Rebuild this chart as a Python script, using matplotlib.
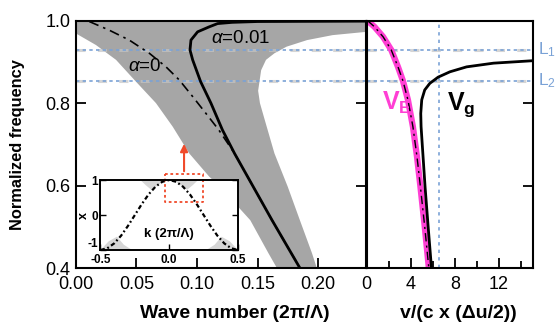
import matplotlib.pyplot as plt

plt.rcParams['font.family'] = ['Liberation Sans', 'DejaVu Sans']
plt.rcParams['mathtext.fontset'] = 'custom'
plt.rcParams['mathtext.rm'] = 'Liberation Sans'
plt.rcParams['mathtext.bf'] = 'Liberation Sans:bold'
plt.rcParams['mathtext.it'] = 'Liberation Sans:italic'

# ---- data ----
# gray band, left (lower) boundary, top to bottom
band_left_k = [0.0, 0.0165, 0.0331, 0.0496, 0.0661, 0.0799, 0.0936, 0.110, 0.119, 0.144, 0.159, 0.166]
band_left_f = [0.969, 0.941, 0.905, 0.852, 0.800, 0.743, 0.678, 0.622, 0.597, 0.516, 0.436, 0.40]
# gray band, right boundary (white bulge), bottom to top
band_right_k = [0.199, 0.195, 0.185, 0.175, 0.164, 0.156, 0.152, 0.1505, 0.153, 0.157, 0.164, 0.174, 0.191, 0.212, 0.240]
band_right_f = [0.40, 0.436, 0.516, 0.597, 0.678, 0.759, 0.800, 0.830, 0.880, 0.905, 0.921, 0.937, 0.953, 0.965, 0.973]

# alpha = 0.01 dispersion (solid)
a001_k = [0.185, 0.162, 0.1465, 0.131, 0.121, 0.1175, 0.1115, 0.103, 0.0964, 0.0942, 0.095, 0.1005, 0.110, 0.117, 0.129, 0.150, 0.240]
a001_f = [0.40, 0.516, 0.597, 0.678, 0.735, 0.759, 0.800, 0.852, 0.905, 0.929, 0.953, 0.973, 0.985, 0.993, 0.996, 0.998, 0.999]
# alpha = 0 dispersion (dash-dot)
a0_k = [0.011, 0.0275, 0.044, 0.0606, 0.0744, 0.0854, 0.0964, 0.1074, 0.118, 0.131, 0.1465, 0.162, 0.185]
a0_f = [0.998, 0.977, 0.953, 0.921, 0.888, 0.856, 0.816, 0.775, 0.735, 0.678, 0.597, 0.516, 0.40]

# right panel: energy velocity and group velocity
ve_v = [0.1, 0.73, 1.5, 2.24, 2.85, 3.3, 3.75, 4.2, 4.57, 4.88, 5.27, 5.64]
ve_f = [1.0, 0.985, 0.961, 0.929, 0.888, 0.854, 0.808, 0.743, 0.670, 0.597, 0.50, 0.40]
vg_v = [5.88, 5.58, 5.30, 5.06, 4.94, 4.91, 5.00, 5.27, 5.73, 6.48, 7.55, 9.06, 11.5, 15.1]
vg_f = [0.40, 0.50, 0.597, 0.694, 0.743, 0.775, 0.808, 0.832, 0.848, 0.863, 0.876, 0.888, 0.897, 0.903]

levels = [0.929, 0.854]          # L1, L2
level_names = ['L$_1$', 'L$_2$']
v_mark = 6.6

# inset: x(k)
ins_k = [-0.5, -0.45, -0.4, -0.35, -0.3, -0.25, -0.2, -0.15, -0.1, -0.05, 0.0,
         0.05, 0.1, 0.15, 0.2, 0.25, 0.3, 0.35, 0.4, 0.45, 0.5]
ins_x = [-1.0, -0.95, -0.81, -0.59, -0.31, 0.0, 0.31, 0.59, 0.81, 0.95, 1.0,
         0.95, 0.81, 0.59, 0.31, 0.0, -0.31, -0.59, -0.81, -0.95, -1.0]
# light gray patches in the inset
patch_tl = ([-0.21, -0.03, -0.1, -0.13, -0.17], [1.0, 1.0, 0.8, 0.72, 0.85])
patch_tr = ([0.21, 0.03, 0.1, 0.13, 0.17], [1.0, 1.0, 0.8, 0.72, 0.85])
patch_bl = ([-0.5, -0.27, -0.33, -0.38, -0.44], [-1.0, -1.0, -0.85, -0.62, -0.75])
patch_br = ([0.5, 0.27, 0.33, 0.38, 0.44], [-1.0, -1.0, -0.85, -0.62, -0.75])

gray = '#a6a6a6'
blue = '#7aa2d6'
magenta = '#ff3fd4'
red = '#f04a2a'

fig = plt.figure(figsize=(5.57, 3.26), dpi=100)
ax = fig.add_axes([0.1364, 0.1779, 0.5215, 0.7586])
ax2 = fig.add_axes([0.658, 0.1779, 0.2995, 0.7586])
axi = fig.add_axes([0.1804, 0.2331, 0.2469, 0.2147])

# ---- left panel ----
ax.fill([0.0] + band_left_k + band_right_k + [0.24],
        [1.0] + band_left_f + band_right_f + [1.0], color=gray, lw=0)
for y in levels:
    ax.axhline(y, color='#c4c4c4', lw=2.2, ls=(0, (3, 4)), alpha=0.7)
    ax.axhline(y, color=blue, lw=1.2, ls=(0, (2, 2)))
ax.plot(a001_k, a001_f, color='black', lw=2.0)
ax.plot(a0_k, a0_f, color='black', lw=1.2, ls=(0, (6, 3, 1.5, 3)))
ax.text(0.136, 0.956, r'$\alpha$=0.01', ha='center', va='center', fontsize=13.5)
ax.text(0.057, 0.888, r'$\alpha$=0', ha='center', va='center', fontsize=13.5)
ax.annotate('', xy=(0.0893, 0.708), xytext=(0.0893, 0.628),
            arrowprops=dict(arrowstyle='-|>', color=red, lw=1.5, mutation_scale=11))

ax.set_xlim(0, 0.24)
ax.set_ylim(0.4, 1.0)
ax.set_xticks([0.0, 0.05, 0.10, 0.15, 0.20])
ax.set_xticklabels(['0.00', '0.05', '0.10', '0.15', '0.20'])
ax.set_yticks([0.4, 0.6, 0.8, 1.0])
ax.set_yticklabels(['0.4', '0.6', '0.8', '1.0'])
ax.tick_params(direction='in', length=7, width=1.3, labelsize=13, right=True)
ax.tick_params(axis='x', pad=6)
ax.tick_params(axis='y', pad=4)
ax.set_xlabel('Wave number (2π/Λ)', fontsize=14, fontweight='bold')
ax.xaxis.set_label_coords(0.547, -0.15)
ax.set_ylabel('Normalized frequency', fontsize=11.8, fontweight='bold')
ax.yaxis.set_label_coords(-0.175, 0.5)
for s in ax.spines.values():
    s.set_linewidth(1.5)

# ---- right panel ----
for y in levels:
    ax2.axhline(y, color='#c4c4c4', lw=2.2, ls=(0, (3, 4)), alpha=0.7)
    ax2.axhline(y, color=blue, lw=1.2, ls=(0, (2, 2)))
ax2.axvline(v_mark, color=blue, lw=1.2, ls=(0, (2, 2.5)))
ax2.plot(ve_v, ve_f, color=magenta, lw=4.5, solid_capstyle='butt')
ax2.plot(ve_v, ve_f, color='black', lw=1.0, ls=(0, (6, 3, 1.5, 3)))
ax2.plot(vg_v, vg_f, color='black', lw=2.0)
ax2.text(1.36, 0.783, r'$\mathbf{V_E}$', color=magenta, fontsize=18, va='baseline')
ax2.text(7.27, 0.783, r'$\mathbf{V_g}$', color='black', fontsize=18, va='baseline')
for y, name in zip(levels, level_names):
    ax2.text(15.55, y, name, color=blue, fontsize=12.5, va='center', ha='left', clip_on=False)

ax2.set_xlim(0, 15.1)
ax2.set_ylim(0.4, 1.0)
ax2.set_xticks([0, 4, 8, 12])
ax2.set_xticks([2, 6, 10, 14], minor=True)
ax2.set_yticks([0.4, 0.6, 0.8, 1.0])
ax2.tick_params(axis='x', which='both', direction='in', width=1.3, labelsize=13, pad=6)
ax2.tick_params(axis='x', which='major', length=7)
ax2.tick_params(axis='x', which='minor', length=5)
ax2.tick_params(axis='y', direction='in', length=7, width=1.3, left=False, right=True,
                labelleft=False, labelright=False)
ax2.set_xlabel('v/(c x (Δu/2))', fontsize=14, fontweight='bold')
ax2.xaxis.set_label_coords(0.55, -0.15)
for s in ax2.spines.values():
    s.set_linewidth(1.5)

# ---- inset ----
for px, py in (patch_tl, patch_tr, patch_bl, patch_br):
    axi.fill(px, py, color='#d6d6d6', lw=0)
axi.plot(ins_k, ins_x, color='black', lw=1.6, ls=(0, (2, 1.2, 0.8, 1.2)))
axi.plot([-0.031, 0.248, 0.248, -0.031, -0.031], [1.17, 1.17, 0.38, 0.38, 1.17],
         color=red, lw=1.3, ls=(0, (1.5, 1.5)), clip_on=False)
axi.text(0.0, -0.55, 'k (2π/Λ)', ha='center', va='center', fontsize=9.5, fontweight='bold')
axi.set_xlim(-0.5, 0.5)
axi.set_ylim(-1, 1)
axi.set_xticks([-0.5, 0.0, 0.5])
axi.set_xticklabels(['-0.5', '0.0', '0.5'])
axi.set_yticks([-1, 0, 1])
axi.set_yticklabels(['-1', '0', '1'])
axi.tick_params(direction='in', length=4, width=1.0, labelsize=8.5, right=True, pad=2)
axi.tick_params(axis='x', pad=3)
for lab in axi.get_xticklabels() + axi.get_yticklabels():
    lab.set_fontweight('bold')
axi.get_yticklabels()[0].set_verticalalignment('bottom')
axi.set_ylabel('x', fontsize=9, fontweight='bold')
axi.yaxis.set_label_coords(-0.075, 0.5)
for s in axi.spines.values():
    s.set_linewidth(1.4)

fig.savefig('out.png', dpi=100)
